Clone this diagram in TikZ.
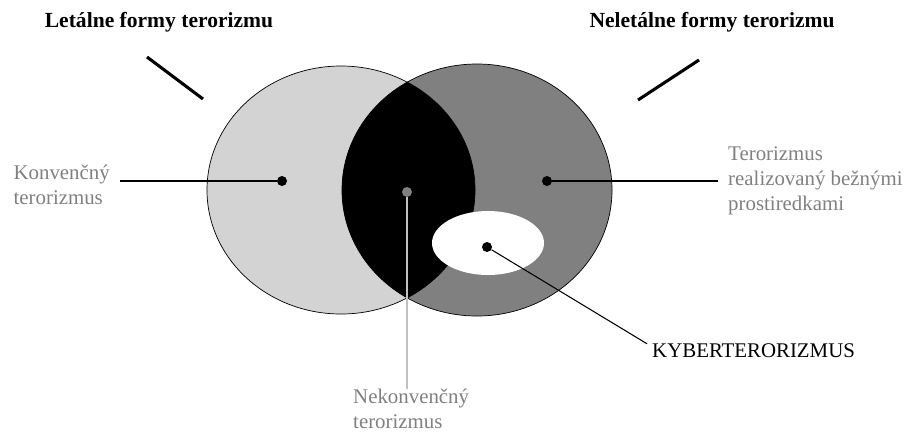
\documentclass[tikz,border=0pt]{standalone}
\usepackage{fontspec}
\setmainfont{Liberation Serif}
\usepackage{tikz}
\usetikzlibrary{positioning}
\definecolor{lightfill}{HTML}{D3D3D3}
\definecolor{darkfill}{HTML}{808080}
\definecolor{labelgray}{HTML}{808080}
\definecolor{linegray}{HTML}{C0C0C0}

\begin{document}
\begin{tikzpicture}[
    x=0.03cm, y=-0.03cm,
    dot/.style={circle, fill=black, inner sep=0pt, minimum size=0.3cm},
    lbl/.style={text=labelgray, align=left, inner xsep=0.3cm, inner ysep=0pt, font=\fontsize{17.8}{21.5}\selectfont},
    title/.style={font=\fontsize{18.4}{22}\selectfont\bfseries, inner sep=0pt},
    conn/.style={line width=0.9pt},
    slash/.style={line width=2.6pt},
    outline/.style={draw=black, line width=0.6pt}
  ]
    \useasboundingbox (0,0) rectangle (908,436);

    \fill[lightfill] (341,190) ellipse [x radius=4.02cm, y radius=3.72cm];
    \fill[darkfill] (477,190) ellipse [x radius=4.05cm, y radius=3.78cm];
    \begin{scope}
      \clip (341,190) ellipse [x radius=4.02cm, y radius=3.72cm];
      \fill[black] (477,190) ellipse [x radius=4.05cm, y radius=3.78cm];
    \end{scope}
    \draw[outline] (341,190) ellipse [x radius=4.02cm, y radius=3.72cm];
    \draw[outline] (477,190) ellipse [x radius=4.05cm, y radius=3.78cm];
    \fill[white] (488,243) ellipse [x radius=1.68cm, y radius=0.96cm];

    \node[dot] (kdot) at (282,181) {};
    \node[dot] (rdot) at (547,181) {};
    \node[dot, fill=darkfill] (gdot) at (407,192) {};
    \node[dot] (wdot) at (487,247) {};

    \node[title] (leth) at (159,22) {Letálne formy terorizmu};
    \node[title] (nonleth) at (712,22) {Neletálne formy terorizmu};

    \node[lbl, anchor=east] (konv) at (120,185) {Konvenčný\\terorizmus};
    \node[lbl, anchor=west] (bezne) at (718,181) {Terorizmus\\realizovaný bežnými\\prostiredkami};
    \node[lbl, anchor=north west] (nekonv) at (343,389) {Nekonvenčný\\terorizmus};
    \node[lbl, anchor=west, text=black, inner xsep=0.15cm] (kyber) at (647,351) {KYBERTERORIZMUS};

    \coordinate (ls1) at (147,57);
    \coordinate (ls2) at (203,99);
    \coordinate (rs1) at (699,60);
    \coordinate (rs2) at (638,100);
    \draw[slash] (ls1) -- (ls2);
    \draw[slash] (rs1) -- (rs2);

    \draw[conn] (konv.east |- kdot) -- (kdot);
    \draw[conn] (rdot) -- (bezne.west |- rdot);
    \draw[linegray, line width=1.5pt] (gdot) -- (gdot |- nekonv.north);
    \draw[conn] (wdot) -- (kyber.north west);
\end{tikzpicture}
\end{document}
